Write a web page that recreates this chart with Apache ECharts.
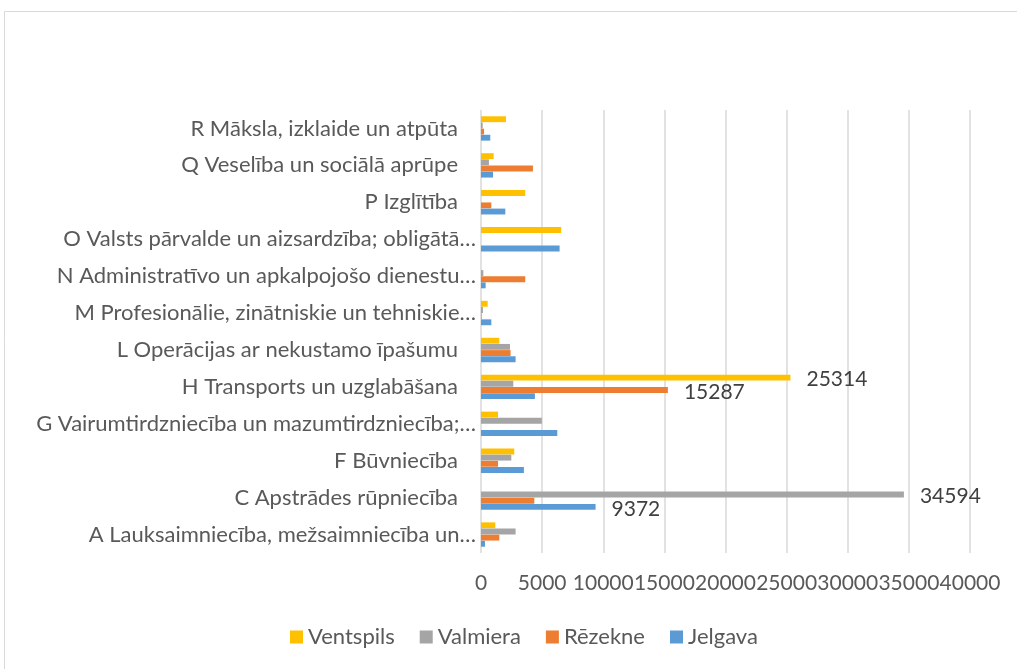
<!DOCTYPE html>
<html>
<head>
<meta charset="utf-8">
<script src="https://cdn.jsdelivr.net/npm/echarts@6/dist/echarts.min.js"></script>
<style>
  html, body { margin: 0; padding: 0; background: #fff; }
  #chart { width: 1017px; height: 669px; }
</style>
</head>
<body>
<div id="chart"></div>
<script>
var categories = [
    'A Lauksaimniecība, mežsaimniecība un…',
    'C Apstrādes rūpniecība',
    'F Būvniecība',
    'G Vairumtirdzniecība un mazumtirdzniecība;…',
    'H Transports un uzglabāšana',
    'L Operācijas ar nekustamo īpašumu',
    'M Profesionālie, zinātniskie un tehniskie…',
    'N Administratīvo un apkalpojošo dienestu…',
    'O Valsts pārvalde un aizsardzība; obligātā…',
    'P Izglītība',
    'Q Veselība un sociālā aprūpe',
    'R Māksla, izklaide un atpūta'
];
var jelgava   = [330, 9372, 3510, 6240, 4410, 2830, 845, 380, 6430, 1990, 980, 760];
var rezekne   = [1500, 4360, 1390, 0, 15287, 2420, 50, 3620, 0, 845, 4250, 250];
var valmiera  = [2830, 34594, 2480, 4980, 2640, 2370, 160, 190, 0, 0, 650, 140];
var ventspils = [1170, 0, 2720, 1390, 25314, 1500, 545, 0, 6560, 3620, 1035, 2040];
var xTicks = [0, 5000, 10000, 15000, 20000, 25000, 30000, 35000, 40000];

// values that carry a data label in the original
var labelled = {
    'Jelgava': [1],
    'Rēzekne': [4],
    'Valmiera': [1],
    'Ventspils': [4]
};

var myChart = echarts.init(document.getElementById('chart'));

function makeSeries(name, values, color) {
    var idx = labelled[name] || [];
    return {
        name: name,
        type: 'bar',
        barCategoryGap: '34%',
        barGap: '5%',
        itemStyle: { color: color },
        data: values.map(function (v, i) {
            if (idx.indexOf(i) >= 0) {
                return {
                    value: v,
                    label: {
                        show: true,
                        position: 'right',
                        distance: 16,
                        offset: [0, 2],
                        fontFamily: 'Lato',
                        fontSize: 21,
                        color: '#404040'
                    }
                };
            }
            return v;
        })
    };
}

option = {
    backgroundColor: '#fff',
    animation: false,
    textStyle: { fontFamily: 'Lato' },
    graphic: [{
        type: 'rect',
        shape: { x: 4.5, y: 11.5, width: 1030, height: 700 },
        style: { fill: 'none', stroke: '#d9d9d9', lineWidth: 1 },
        silent: true
    }],
    legend: {
        data: ['Ventspils', 'Valmiera', 'Rēzekne', 'Jelgava'],
        left: 285,
        top: 621,
        itemWidth: 13,
        itemHeight: 13,
        itemGap: 25,
        icon: 'rect',
        textStyle: { fontFamily: 'Lato', fontSize: 22, color: '#595959' }
    },
    grid: {
        left: 481,
        right: 47,
        top: 110,
        bottom: 116
    },
    xAxis: {
        type: 'value',
        min: xTicks[0],
        max: xTicks[xTicks.length - 1],
        interval: xTicks[1] - xTicks[0],
        axisLine: { show: false },
        axisTick: { show: false },
        axisLabel: {
            margin: 20,
            fontFamily: 'Lato',
            fontSize: 21,
            color: '#595959',
            showMinLabel: true,
            showMaxLabel: true,
            hideOverlap: false,
            formatter: function (v) { return String(v); }
        },
        splitLine: { lineStyle: { color: '#d9d9d9', width: 1.5 } }
    },
    yAxis: {
        type: 'category',
        data: categories,
        axisLine: { show: false },
        axisTick: { show: false },
        axisLabel: {
            margin: 5,
            fontFamily: 'Lato',
            fontSize: 22,
            color: '#595959',
            formatter: function (v) {
                return v.slice(-1) === '…' ? '{e|' + v + '}' : '{p|' + v + '}';
            },
            rich: {
                e: { fontFamily: 'Lato', fontSize: 22, color: '#595959' },
                p: { fontFamily: 'Lato', fontSize: 22, color: '#595959', padding: [0, 18, 0, 0] }
            }
        }
    },
    series: [
        makeSeries('Ventspils', ventspils, '#FFC000'),
        makeSeries('Valmiera', valmiera, '#A5A5A5'),
        makeSeries('Rēzekne', rezekne, '#ED7D31'),
        makeSeries('Jelgava', jelgava, '#5B9BD5')
    ]
};

myChart.setOption(option);
</script>
</body>
</html>
